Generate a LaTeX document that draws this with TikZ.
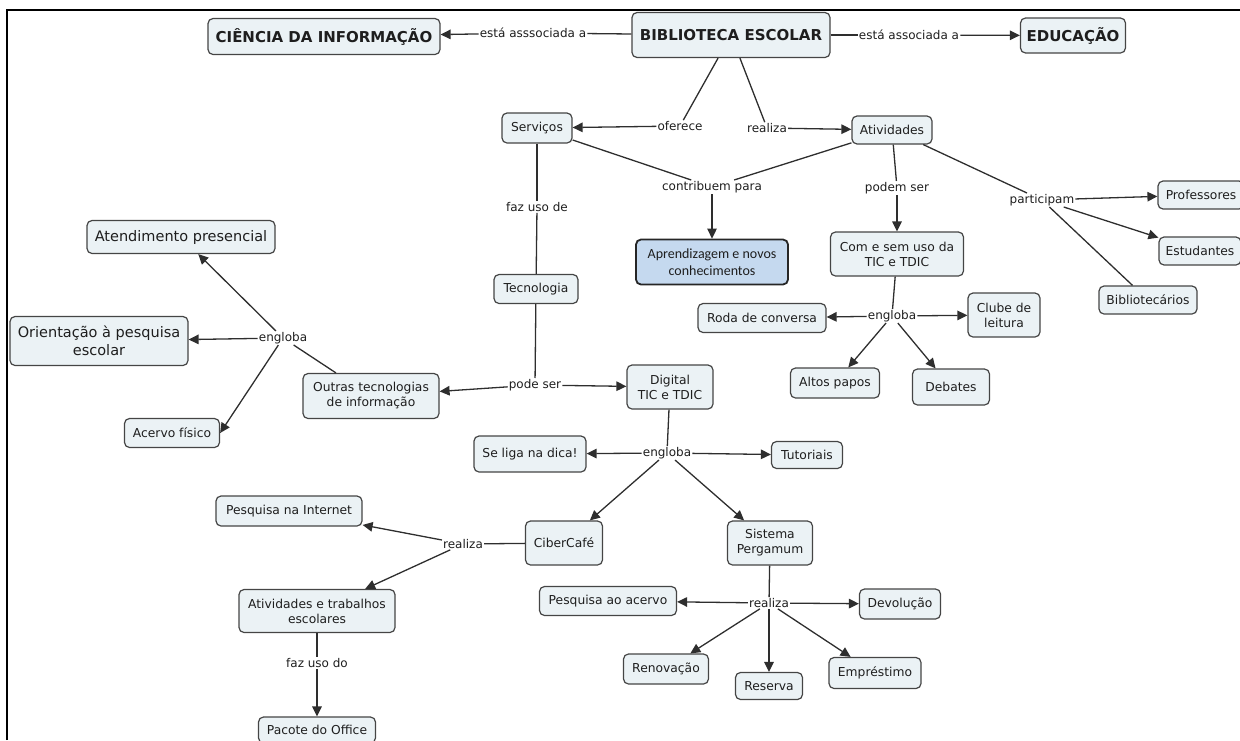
\documentclass[tikz,border=0pt]{standalone}
\usepackage{fontspec}
\setmainfont{DejaVu Sans}
\newfontfamily\calib{Carlito}
\usetikzlibrary{arrows.meta}
\definecolor{boxfill}{HTML}{EBF2F5}
\definecolor{boxline}{HTML}{454545}
\definecolor{linkcol}{HTML}{2E2E2E}
\definecolor{aprfill}{HTML}{C5D9EF}
\definecolor{txt}{HTML}{1E1E1E}
\begin{document}
\begin{tikzpicture}[x=1pt,y=-1pt,
  concept/.style 2 args={draw=boxline, fill=boxfill, text=txt, rounded corners=5pt, line width=1.2pt, align=center, inner sep=0pt, minimum width=#1, minimum height=#2, font=\fontsize{12.3}{15}\selectfont},
  big/.style={font=\fontsize{15}{18}\selectfont\bfseries},
  mid/.style={font=\fontsize{14.5}{17.5}\selectfont},
  link/.style={inner sep=1pt, text=txt, font=\fontsize{12}{14}\selectfont},
  conn/.style={draw=linkcol, line width=1.3pt},
  arr/.style={conn, -{Triangle[length=10pt,width=9.5pt]}}
]
\useasboundingbox (0,0) rectangle (1240,740);
% frame
\draw[line width=2pt] (7,740) -- (7,10) -- (1240,10);

% concepts
\node[concept={232pt}{36pt}, big] (cien) at (324,36.5) {CIÊNCIA DA INFORMAÇÃO};
\node[concept={198pt}{45pt}, big] (bib) at (731,35) {BIBLIOTECA ESCOLAR};
\node[concept={105pt}{35pt}, big] (edu) at (1073,35.5) {EDUCAÇÃO};
\node[concept={70pt}{30pt}] (serv) at (537,128) {Serviços};
\node[concept={80pt}{28pt}] (ativ) at (892,130) {Atividades};
\node[concept={152pt}{45pt}, fill=aprfill, draw=black!85, line width=1.8pt, font=\calib\fontsize{14}{16.5}\selectfont] (apr) at (712,262) {Aprendizagem e novos\\conhecimentos};
\node[concept={84pt}{29pt}] (tecn) at (536,289) {Tecnologia};
\node[concept={136pt}{45pt}] (outras) at (371,396) {Outras tecnologias\\de informação};
\node[concept={86pt}{44pt}] (digital) at (670,387) {Digital\\TIC e TDIC};
\node[concept={188pt}{33pt}, mid] (atend) at (181,237) {Atendimento presencial};
\node[concept={178pt}{49pt}, mid] (orient) at (99,341) {Orientação à pesquisa\\escolar};
\node[concept={95pt}{29pt}] (acervo) at (172,433) {Acervo físico};
\node[concept={133pt}{44pt}] (comsem) at (897,254) {Com e sem uso da\\TIC e TDIC};
\node[concept={86pt}{28pt}] (prof) at (1201,195) {Professores};
\node[concept={82pt}{28pt}] (estud) at (1200,251) {Estudantes};
\node[concept={98pt}{28pt}] (bibl) at (1148,300) {Bibliotecários};
\node[concept={128pt}{29pt}] (roda) at (762,318) {Roda de conversa};
\node[concept={72pt}{44pt}] (clube) at (1004,315) {Clube de\\leitura};
\node[concept={89pt}{30pt}] (altos) at (835,383) {Altos papos};
\node[concept={77pt}{36pt}] (debates) at (951,387) {Debates};
\node[concept={112pt}{36pt}] (seliga) at (530,454) {Se liga na dica!};
\node[concept={71pt}{27pt}] (tutor) at (807,455) {Tutoriais};
\node[concept={146pt}{30pt}] (pesqnet) at (289,511) {Pesquisa na Internet};
\node[concept={77pt}{44pt}] (ciber) at (564,543) {CiberCafé};
\node[concept={85pt}{44pt}] (sistema) at (770,543) {Sistema\\Pergamum};
\node[concept={156pt}{43pt}] (ativtrab) at (317,611) {Atividades e trabalhos\\escolares};
\node[concept={117pt}{26pt}] (pacote) at (317,730) {Pacote do Office};
\node[concept={137pt}{29pt}] (pesqacervo) at (608,601) {Pesquisa ao acervo};
\node[concept={81pt}{30pt}] (devol) at (900,604) {Devolução};
\node[concept={85pt}{30pt}] (renov) at (666,669) {Renovação};
\node[concept={67pt}{27pt}] (reserva) at (769,686) {Reserva};
\node[concept={92pt}{31pt}] (empr) at (875,673) {Empréstimo};

% linking phrases
\node[link] (lA) at (533,33) {está asssociada a};
\node[link] (lB) at (909,35) {está associada a};
\node[link] (lofer) at (680,126) {oferece};
\node[link] (lreal1) at (767,128) {realiza};
\node[link] (lcontr) at (712,187) {contribuem para};
\node[link] (lfazde) at (537,207) {faz uso de};
\node[link] (lpode) at (535,385) {pode ser};
\node[link] (leng1) at (283,338) {engloba};
\node[link] (lpodem) at (897,188) {podem ser};
\node[link] (lpart) at (1042,200) {participam};
\node[link] (leng2) at (892,316) {engloba};
\node[link] (leng3) at (667,453) {engloba};
\node[link] (lreal2) at (463,544) {realiza};
\node[link] (lfazdo) at (317,663) {faz uso do};
\node[link] (lreal3) at (769,603) {realiza};

% connectors
\draw[conn] (bib) -- (lA); \draw[arr] (lA) -- (cien);
\draw[conn] (bib) -- (lB); \draw[arr] (lB) -- (edu);
\draw[conn] (bib) -- (lofer); \draw[arr] (lofer) -- (serv);
\draw[conn] (bib) -- (lreal1); \draw[arr] (lreal1) -- (ativ);
\draw[conn] (serv) -- (lcontr); \draw[conn] (ativ) -- (lcontr); \draw[arr] (lcontr) -- (apr);
\draw[conn] (serv) -- (lfazde); \draw[conn] (lfazde) -- (tecn);
\draw[conn] (tecn) -- (lpode); \draw[arr] (lpode) -- (outras); \draw[arr] (lpode) -- (digital);
\draw[conn] (outras) -- (leng1);
\draw[arr] (leng1) -- (atend); \draw[arr] (leng1) -- (orient); \draw[arr] (leng1) -- (acervo.east);
\draw[conn] (ativ) -- (lpodem); \draw[arr] (lpodem) -- (comsem);
\draw[conn] (ativ) -- (lpart); \draw[arr] (lpart) -- (prof); \draw[arr] (lpart) -- (estud); \draw[conn] (lpart) -- (bibl);
\draw[conn] (comsem) -- (leng2);
\draw[arr] (leng2) -- (roda); \draw[arr] (leng2) -- (clube); \draw[arr] (leng2) -- (altos); \draw[arr] (leng2) -- (debates);
\draw[conn] (digital) -- (leng3);
\draw[arr] (leng3) -- (seliga); \draw[arr] (leng3) -- (tutor); \draw[arr] (leng3) -- (ciber); \draw[arr] (leng3) -- (sistema);
\draw[conn] (ciber) -- (lreal2); \draw[arr] (lreal2) -- (pesqnet); \draw[arr] (lreal2) -- (ativtrab);
\draw[conn] (ativtrab) -- (lfazdo); \draw[arr] (lfazdo) -- (pacote);
\draw[conn] (sistema) -- (lreal3);
\draw[arr] (lreal3) -- (pesqacervo); \draw[arr] (lreal3) -- (devol); \draw[arr] (lreal3) -- (renov); \draw[arr] (lreal3) -- (reserva); \draw[arr] (lreal3) -- (empr);
\end{tikzpicture}
\end{document}
